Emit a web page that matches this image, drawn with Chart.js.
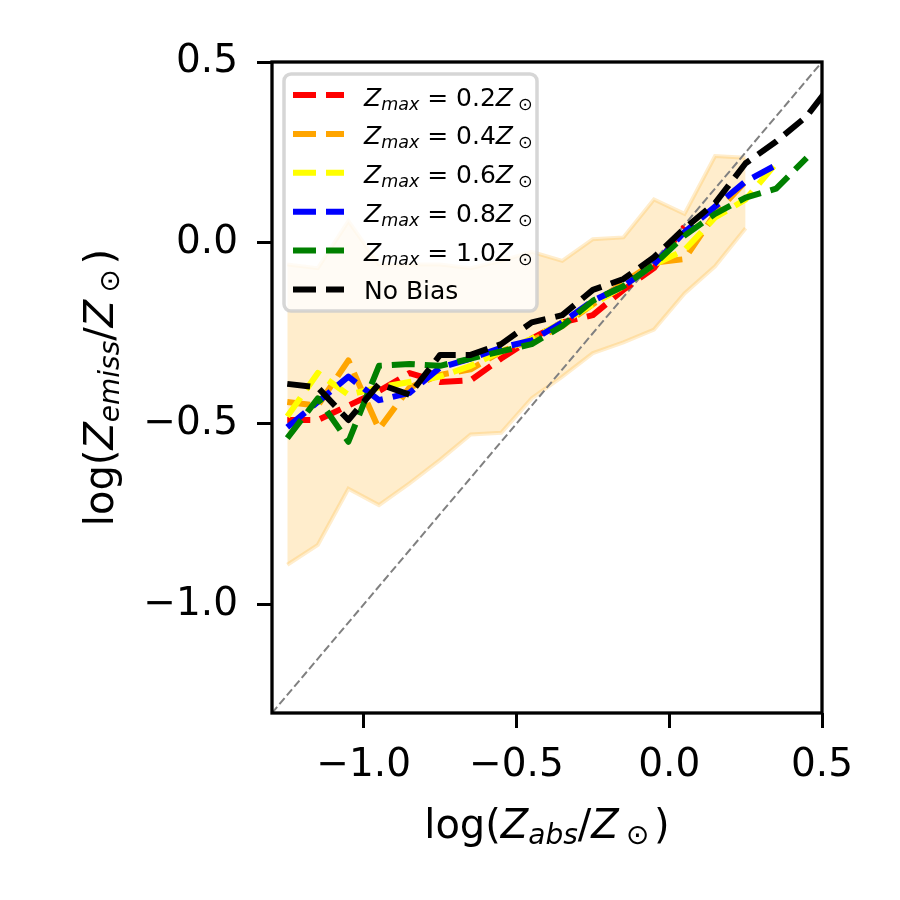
<!DOCTYPE html>
<html>
<head>
<meta charset="utf-8">
<script src="https://cdn.jsdelivr.net/npm/chart.js@4.4.1/dist/chart.umd.min.js"></script>
<style>
  html, body { margin: 0; padding: 0; background: #fff; }
  #wrap { width: 900px; height: 900px; }
</style>
</head>
<body>
<div id="wrap"><canvas id="chart" width="900" height="900"></canvas></div>
<script>
// bin centres of log(Z_abs/Z_sun)
var binX = [-1.25, -1.15, -1.05, -0.95, -0.85, -0.75, -0.65, -0.55, -0.45, -0.35,
            -0.25, -0.15, -0.05, 0.05, 0.15, 0.25, 0.35, 0.45, 0.55];

var redVals    = [-0.49, -0.49, -0.45, -0.41, -0.36, -0.385, -0.38, -0.32, -0.265, -0.22,
                  -0.20, -0.13, -0.07, 0.045];
var orangeVals = [-0.44, -0.45, -0.325, -0.515, -0.40, -0.365, -0.35, -0.30, -0.27, -0.23,
                  -0.17, -0.11, -0.055, -0.045, 0.08, 0.17];
var yellowVals = [-0.48, -0.36, -0.42, -0.40, -0.385, -0.37, -0.34, -0.30, -0.265, -0.22,
                  -0.17, -0.12, -0.06, -0.02, 0.07, 0.12, 0.22];
var blueVals   = [-0.51, -0.44, -0.37, -0.435, -0.415, -0.345, -0.32, -0.29, -0.27, -0.22,
                  -0.16, -0.12, -0.06, 0.03, 0.10, 0.17, 0.215];
var greenVals  = [-0.54, -0.43, -0.55, -0.34, -0.335, -0.34, -0.32, -0.30, -0.28, -0.23,
                  -0.16, -0.12, -0.06, 0.02, 0.08, 0.125, 0.15, 0.235];
var blackVals  = [-0.39, -0.40, -0.49, -0.39, -0.42, -0.31, -0.31, -0.28, -0.22, -0.20,
                  -0.13, -0.10, -0.04, 0.04, 0.11, 0.22, 0.28, 0.35, 0.46];

// spread of the no-bias sample
var bandUpper = [-0.06, -0.07, 0.06, -0.06, -0.06, -0.06, -0.07, -0.05, -0.025, -0.05,
                 0.01, 0.015, 0.12, 0.08, 0.24, 0.235];
var bandLower = [-0.89, -0.835, -0.68, -0.725, -0.665, -0.60, -0.53, -0.525, -0.43, -0.37,
                 -0.305, -0.275, -0.24, -0.14, -0.065, 0.04];

var diagLine = [-1.3, 0.5];
var zmaxLabels = ['0.2', '0.4', '0.6', '0.8', '1.0'];
var xTicks = [-1.0, -0.5, 0.0, 0.5];
var yTicks = [-1.0, -0.5, 0.0, 0.5];

var FONT = '"DejaVu Sans"';
var lineColors = ['#ff0000', '#ffa500', '#ffff00', '#0000ff', '#008000', '#000000'];
var DASH = [23, 10];

function pts(ys) {
    return ys.map(function (y, i) { return { x: binX[i], y: y }; });
}

function fmt(v) {
    return (v < 0 ? '\u2212' : '') + Math.abs(v).toFixed(1);
}

// draws a run of text pieces, some italic, some as subscripts; gap is extra space before a piece (em)
function drawMath(ctx, runs, x, y, size, align) {
    var subSize = size * 0.7, drop = size * 0.16;
    function font(r) { return (r.it ? 'italic ' : '') + (r.sub ? subSize : size) + 'px ' + FONT; }
    var total = 0;
    runs.forEach(function (r) {
        ctx.font = font(r);
        total += ctx.measureText(r.t).width + (r.gap || 0) * size;
    });
    var cx = align === 'center' ? x - total / 2 : x;
    ctx.textAlign = 'left';
    ctx.textBaseline = 'alphabetic';
    runs.forEach(function (r) {
        ctx.font = font(r);
        cx += (r.gap || 0) * size;
        ctx.fillText(r.t, cx, y + (r.sub ? drop : 0));
        cx += ctx.measureText(r.t).width;
    });
}

function zmaxRuns(v) {
    return [{ t: 'Z', it: 1 }, { t: 'max', it: 1, sub: 1 }, { t: ' = ' + v },
            { t: 'Z', it: 1 }, { t: '\u2299', sub: 1, gap: 0.2 }];
}

function titleRuns(sub) {
    return [{ t: 'log(' }, { t: 'Z', it: 1 }, { t: sub, it: 1, sub: 1 }, { t: '/' },
            { t: 'Z', it: 1 }, { t: '\u2299', sub: 1, gap: 0.18 }, { t: ')', gap: 0.12 }];
}

var extras = {
    id: 'extras',
    afterDatasetsDraw: function (chart) {
        var ctx = chart.ctx, a = chart.chartArea;
        ctx.save();
        // legend box
        var bx = 284, by = 74, bw = 253, bh = 237, r = 7;
        ctx.beginPath();
        ctx.moveTo(bx + r, by);
        ctx.arcTo(bx + bw, by, bx + bw, by + bh, r);
        ctx.arcTo(bx + bw, by + bh, bx, by + bh, r);
        ctx.arcTo(bx, by + bh, bx, by, r);
        ctx.arcTo(bx, by, bx + bw, by, r);
        ctx.closePath();
        ctx.fillStyle = 'rgba(255,255,255,0.8)';
        ctx.fill();
        ctx.lineWidth = 3.5;
        ctx.strokeStyle = 'rgba(204,204,204,0.8)';
        ctx.stroke();

        for (var i = 0; i < 6; i++) {
            var hy = 95 + i * 38.9;
            ctx.beginPath();
            ctx.setLineDash(DASH);
            ctx.lineWidth = 6;
            ctx.lineCap = 'butt';
            ctx.strokeStyle = lineColors[i];
            ctx.moveTo(293, hy);
            ctx.lineTo(344, hy);
            ctx.stroke();
            ctx.setLineDash([]);
            ctx.fillStyle = '#000';
            if (i < 5) {
                drawMath(ctx, zmaxRuns(zmaxLabels[i]), 364, hy + 10.5, 25, 'left');
            } else {
                drawMath(ctx, [{ t: 'No Bias' }], 364, hy + 9, 25, 'left');
            }
        }

        // axes frame
        ctx.setLineDash([]);
        ctx.lineWidth = 3.3;
        ctx.strokeStyle = '#000';
        ctx.strokeRect(a.left, a.top, a.right - a.left, a.bottom - a.top);

        // axis titles
        ctx.fillStyle = '#000';
        drawMath(ctx, titleRuns('abs'), (a.left + a.right) / 2, 838, 40, 'center');
        ctx.translate(113, (a.top + a.bottom) / 2);
        ctx.rotate(-Math.PI / 2);
        drawMath(ctx, titleRuns('emiss'), 0, 0, 40, 'center');
        ctx.restore();
    }
};

function series(vals, color, order) {
    return {
        data: pts(vals),
        borderColor: color,
        borderWidth: 6,
        borderDash: DASH,
        borderCapStyle: 'butt',
        borderJoinStyle: 'round',
        pointRadius: 0,
        tension: 0,
        fill: false,
        clip: 0,
        order: order
    };
}

var band = 'rgba(255,165,0,0.2)';

new Chart(document.getElementById('chart'), {
    type: 'line',
    data: {
        datasets: [
            { data: pts(bandLower), borderColor: band, borderWidth: 4, pointRadius: 0,
              fill: false, order: 20, clip: 0 },
            { data: pts(bandUpper), borderColor: band, borderWidth: 4, pointRadius: 0,
              backgroundColor: band, fill: '-1', order: 19, clip: 0 },
            { data: diagLine.map(function (v) { return { x: v, y: v }; }),
              borderColor: '#808080', borderWidth: 2, borderDash: [8, 3.5],
              pointRadius: 0, fill: false, order: 18, clip: 0 },
            series(redVals, lineColors[0], 6),
            series(orangeVals, lineColors[1], 5),
            series(yellowVals, lineColors[2], 4),
            series(blueVals, lineColors[3], 3),
            series(greenVals, lineColors[4], 2),
            series(blackVals, lineColors[5], 1)
        ]
    },
    options: {
        responsive: false,
        animation: false,
        layout: { padding: { top: 62, right: 78, left: 0, bottom: 0 } },
        plugins: { legend: { display: false }, tooltip: { enabled: false } },
        scales: {
            x: {
                type: 'linear', min: -1.3, max: 0.5,
                afterBuildTicks: function (s) { s.ticks = xTicks.map(function (v) { return { value: v }; }); },
                afterFit: function (s) { s.height = 187; },
                grid: { drawOnChartArea: false, drawTicks: true, tickLength: 15, tickWidth: 3, tickColor: '#000' },
                border: { display: false },
                ticks: { font: { family: 'DejaVu Sans', size: 39 }, color: '#000', padding: 14,
                         maxRotation: 0, callback: fmt }
            },
            y: {
                type: 'linear', min: -1.3, max: 0.5,
                afterBuildTicks: function (s) { s.ticks = yTicks.map(function (v) { return { value: v }; }); },
                afterFit: function (s) { s.width = 272; },
                grid: { drawOnChartArea: false, drawTicks: true, tickLength: 15, tickWidth: 3, tickColor: '#000' },
                border: { display: false },
                ticks: { font: { family: 'DejaVu Sans', size: 39 }, color: '#000', padding: 19,
                         callback: fmt }
            }
        }
    },
    plugins: [extras]
});
</script>
</body>
</html>
